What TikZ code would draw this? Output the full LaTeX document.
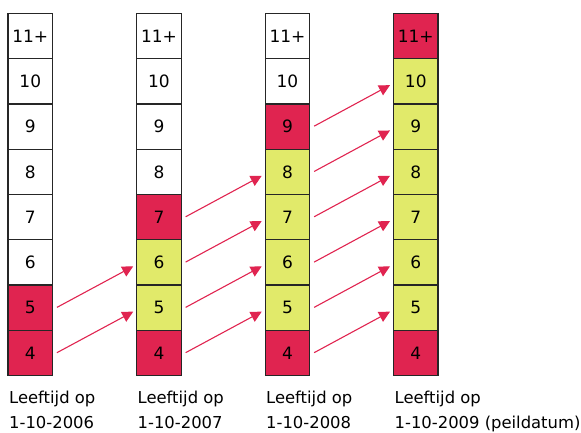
\documentclass[tikz,border=0pt]{standalone}
\usepackage{fontspec}
\setmainfont{DejaVu Sans}
\usetikzlibrary{arrows.meta}
\definecolor{cred}{RGB}{224,36,80}
\definecolor{cyel}{RGB}{225,234,106}
\begin{document}
\begin{tikzpicture}[x=1pt,y=-1pt,
  cell/.style={draw=black!85,line width=1.3pt,minimum width=44.5pt,minimum height=45.3pt,inner sep=0pt,outer sep=0pt,font=\fontsize{17}{19}\selectfont},
  wcell/.style={cell,fill=white},
  rcell/.style={cell,fill=cred},
  ycell/.style={cell,fill=cyel},
  lab/.style={anchor=base west,inner sep=0pt,font=\fontsize{16.4}{18}\selectfont},
  arr/.style={draw=cred,line width=1.1pt,-{Triangle[length=11pt,width=11pt]},shorten <=5pt,shorten >=4pt}]
\useasboundingbox (0,0) rectangle (581,433);
\def\rowy#1{13.3+45.3*(7-#1+0.5)}
% column 1
\foreach \t/\s [count=\i from 0] in {4/rcell,5/rcell,6/wcell,7/wcell,8/wcell,9/wcell,10/wcell,11+/wcell}
  \node[\s] (a\i) at (30.3,{\rowy{\i}}) {\t};
% column 2
\foreach \t/\s [count=\i from 0] in {4/rcell,5/ycell,6/ycell,7/rcell,8/wcell,9/wcell,10/wcell,11+/wcell}
  \node[\s] (b\i) at (159,{\rowy{\i}}) {\t};
% column 3
\foreach \t/\s [count=\i from 0] in {4/rcell,5/ycell,6/ycell,7/ycell,8/ycell,9/rcell,10/wcell,11+/wcell}
  \node[\s] (c\i) at (287.5,{\rowy{\i}}) {\t};
% column 4
\foreach \t/\s [count=\i from 0] in {4/rcell,5/ycell,6/ycell,7/ycell,8/ycell,9/ycell,10/ycell,11+/rcell}
  \node[\s] (d\i) at (415.8,{\rowy{\i}}) {\t};
% arrows
\foreach \i [evaluate=\i as \j using int(\i+1)] in {0,1}
  \draw[arr] ([yshift=-2pt]a\i.east) -- ([yshift=-2pt]b\j.west);
\foreach \i [evaluate=\i as \j using int(\i+1)] in {0,1,2,3}
  \draw[arr] ([yshift=-2pt]b\i.east) -- ([yshift=-2pt]c\j.west);
\foreach \i [evaluate=\i as \j using int(\i+1)] in {0,1,2,3,4,5}
  \draw[arr] ([yshift=-2pt]c\i.east) -- ([yshift=-2pt]d\j.west);
% labels
\node[lab] (l1a) at (9,403) {Leeftijd op};
\node[lab] (l1b) at (9,428) {1-10-2006};
\node[lab] (l2a) at (137.5,403) {Leeftijd op};
\node[lab] (l2b) at (137.5,428) {1-10-2007};
\node[lab] (l3a) at (266,403) {Leeftijd op};
\node[lab] (l3b) at (266,428) {1-10-2008};
\node[lab] (l4a) at (394.5,403) {Leeftijd op};
\node[lab] (l4b) at (394.5,428) {1-10-2009 (peildatum)};
\end{tikzpicture}
\end{document}
